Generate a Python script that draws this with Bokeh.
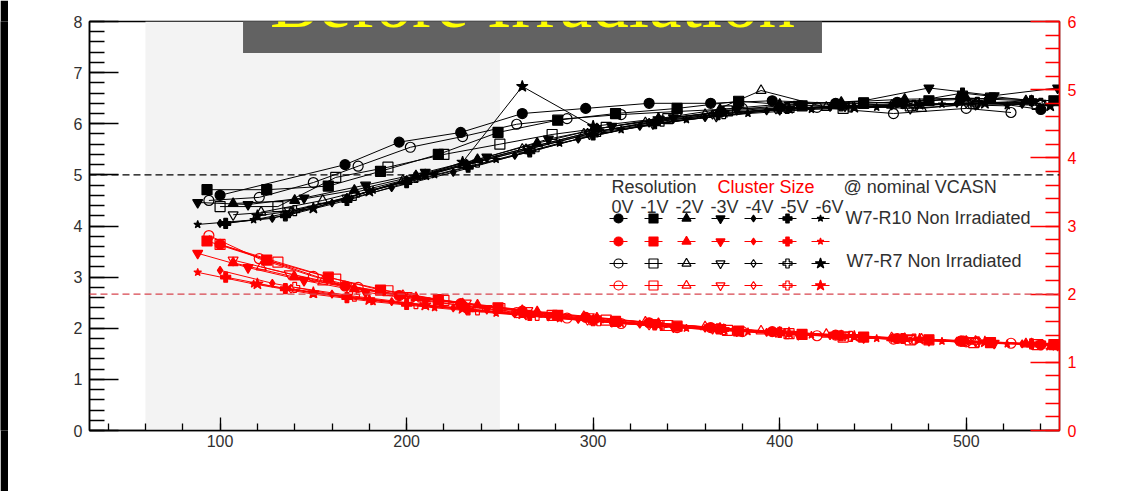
from math import pi

from bokeh.plotting import figure
from bokeh.layouts import row
from bokeh.models import (Range1d, LinearAxis, SingleIntervalTicker, BoxAnnotation,
                          Span, Label)
from bokeh.embed import file_html
from bokeh.resources import INLINE

# ---------------------------------------------------------------- data
voltages = ["0V", "-1V", "-2V", "-3V", "-4V", "-5V", "-6V"]

# W7-R10 (non irradiated): threshold (e-), resolution (um), cluster size (pixel)
thr_r10_0v = [100, 167, 196, 229, 262, 296, 330, 363, 396, 430, 463, 497, 540]
res_r10_0v = [4.60, 5.20, 5.64, 5.83, 6.20, 6.30, 6.40, 6.40, 6.45, 6.40, 6.42, 6.50, 6.28]
cls_r10_0v = [2.73, 2.12, 1.98, 1.86, 1.75, 1.66, 1.58, 1.51, 1.45, 1.40, 1.35, 1.31, 1.26]

thr_r10_1v = [93, 125, 158, 186, 217, 249, 281, 312, 345, 378, 412, 445, 480, 513, 547]
res_r10_1v = [4.71, 4.71, 4.78, 5.07, 5.40, 5.83, 6.07, 6.20, 6.30, 6.44, 6.35, 6.40, 6.45, 6.50, 6.45]
cls_r10_1v = [2.78, 2.50, 2.25, 2.06, 1.92, 1.80, 1.69, 1.60, 1.53, 1.46, 1.41, 1.37, 1.33, 1.29, 1.26]

thr_r10_2v = [107, 140, 172, 205, 238, 270, 302, 335, 368, 400, 433, 467, 500, 532]
res_r10_2v = [4.44, 4.50, 4.70, 4.98, 5.30, 5.62, 5.90, 6.10, 6.28, 6.38, 6.42, 6.48, 6.50, 6.45]
cls_r10_2v = [2.46, 2.25, 2.08, 1.95, 1.84, 1.74, 1.65, 1.57, 1.50, 1.44, 1.39, 1.35, 1.31, 1.27]

thr_r10_3v = [88, 115, 145, 178, 210, 243, 276, 310, 343, 377, 410, 445, 480, 515, 549]
res_r10_3v = [4.46, 4.42, 4.55, 4.80, 5.05, 5.35, 5.70, 5.95, 6.12, 6.28, 6.38, 6.45, 6.70, 6.55, 6.70]
cls_r10_3v = [2.60, 2.39, 2.20, 2.03, 1.90, 1.79, 1.69, 1.60, 1.52, 1.46, 1.41, 1.36, 1.32, 1.28, 1.25]

thr_r10_4v = [100, 128, 160, 192, 225, 258, 292, 325, 360, 393, 427, 460, 495, 530]
res_r10_4v = [4.05, 4.15, 4.45, 4.75, 5.05, 5.38, 5.70, 5.95, 6.12, 6.25, 6.32, 6.35, 6.40, 6.38]
cls_r10_4v = [2.35, 2.16, 2.00, 1.89, 1.80, 1.71, 1.63, 1.56, 1.50, 1.44, 1.39, 1.35, 1.31, 1.27]

thr_r10_5v = [103, 135, 168, 200, 233, 266, 300, 333, 367, 400, 433, 466, 498, 535]
res_r10_5v = [4.05, 4.20, 4.50, 4.85, 5.15, 5.45, 5.78, 6.00, 6.18, 6.30, 6.35, 6.40, 6.60, 6.45]
cls_r10_5v = [2.25, 2.08, 1.95, 1.85, 1.77, 1.69, 1.61, 1.55, 1.49, 1.44, 1.39, 1.35, 1.31, 1.27]

thr_r10_6v = [88, 118, 150, 182, 215, 248, 282, 315, 350, 383, 417, 452, 487, 522]
res_r10_6v = [4.03, 4.12, 4.35, 4.70, 5.00, 5.30, 5.62, 5.88, 6.08, 6.20, 6.28, 6.32, 6.38, 6.35]
cls_r10_6v = [2.32, 2.15, 2.00, 1.89, 1.80, 1.72, 1.64, 1.57, 1.50, 1.45, 1.40, 1.35, 1.31, 1.27]

# W7-R7 (non irradiated)
thr_r7_0v = [94, 121, 150, 174, 202, 230, 259, 286, 315, 345, 380, 420, 461, 500, 524]
res_r7_0v = [4.50, 4.56, 4.85, 5.17, 5.54, 5.75, 5.99, 6.10, 6.18, 6.24, 6.30, 6.32, 6.20, 6.30, 6.22]
cls_r7_0v = [2.86, 2.52, 2.26, 2.10, 1.95, 1.83, 1.73, 1.65, 1.57, 1.51, 1.45, 1.39, 1.34, 1.30, 1.28]

thr_r7_1v = [100, 131, 162, 190, 220, 250, 278, 307, 340, 372, 405, 434, 470, 504, 538]
res_r7_1v = [4.38, 4.38, 4.95, 5.15, 5.40, 5.60, 5.79, 5.93, 6.10, 6.25, 6.32, 6.30, 6.35, 6.40, 6.38]
cls_r7_1v = [2.73, 2.47, 2.22, 2.05, 1.91, 1.79, 1.69, 1.62, 1.54, 1.47, 1.42, 1.37, 1.33, 1.29, 1.26]

thr_r7_2v = [122, 155, 198, 230, 262, 295, 328, 360, 390, 425, 460, 476, 505, 535]
res_r7_2v = [4.27, 4.50, 4.89, 5.20, 5.50, 5.80, 6.02, 6.18, 6.65, 6.32, 6.36, 6.30, 6.40, 6.45]
cls_r7_2v = [2.40, 2.18, 1.98, 1.86, 1.76, 1.67, 1.59, 1.52, 1.46, 1.41, 1.36, 1.34, 1.31, 1.27]

thr_r7_3v = [107, 137, 168, 200, 232, 265, 298, 332, 366, 400, 435, 470, 505, 540]
res_r7_3v = [4.22, 4.30, 4.55, 4.88, 5.20, 5.50, 5.80, 6.00, 6.15, 6.28, 6.35, 6.30, 6.38, 6.40]
cls_r7_3v = [2.50, 2.30, 2.12, 1.98, 1.87, 1.76, 1.67, 1.58, 1.51, 1.45, 1.40, 1.35, 1.31, 1.27]

thr_r7_4v = [138, 168, 200, 232, 264, 297, 330, 364, 398, 432, 466, 500, 535]
res_r7_4v = [4.28, 4.55, 4.90, 5.22, 5.52, 5.82, 6.02, 6.18, 6.28, 6.35, 6.38, 6.40, 6.42]
cls_r7_4v = [2.08, 1.96, 1.86, 1.77, 1.69, 1.61, 1.54, 1.48, 1.43, 1.38, 1.34, 1.30, 1.26]

thr_r7_5v = [140, 172, 205, 238, 270, 303, 337, 370, 404, 438, 472, 506, 540]
res_r7_5v = [4.30, 4.60, 4.95, 5.25, 5.55, 5.85, 6.05, 6.20, 6.30, 6.33, 6.36, 6.42, 6.40]
cls_r7_5v = [2.10, 1.97, 1.86, 1.77, 1.69, 1.61, 1.54, 1.48, 1.42, 1.38, 1.34, 1.30, 1.26]

thr_r7_6v = [120, 150, 180, 210, 230, 262, 300, 335, 370, 405, 440, 475, 510, 545]
res_r7_6v = [4.20, 4.35, 4.68, 5.00, 5.25, 6.73, 5.95, 6.10, 6.22, 6.30, 6.32, 6.38, 6.40, 6.35]
cls_r7_6v = [2.15, 2.02, 1.92, 1.84, 1.79, 1.71, 1.62, 1.55, 1.48, 1.43, 1.38, 1.34, 1.30, 1.25]

resolution_limit = 5.0      # um
cluster_size_ref = 2.0      # pixel
region_lo, region_hi = 60, 250

r10 = [(thr_r10_0v, res_r10_0v, cls_r10_0v), (thr_r10_1v, res_r10_1v, cls_r10_1v),
       (thr_r10_2v, res_r10_2v, cls_r10_2v), (thr_r10_3v, res_r10_3v, cls_r10_3v),
       (thr_r10_4v, res_r10_4v, cls_r10_4v), (thr_r10_5v, res_r10_5v, cls_r10_5v),
       (thr_r10_6v, res_r10_6v, cls_r10_6v)]
r7 = [(thr_r7_0v, res_r7_0v, cls_r7_0v), (thr_r7_1v, res_r7_1v, cls_r7_1v),
      (thr_r7_2v, res_r7_2v, cls_r7_2v), (thr_r7_3v, res_r7_3v, cls_r7_3v),
      (thr_r7_4v, res_r7_4v, cls_r7_4v), (thr_r7_5v, res_r7_5v, cls_r7_5v),
      (thr_r7_6v, res_r7_6v, cls_r7_6v)]

# ---------------------------------------------------------------- styles
MARKERS = ["circle", "square", "triangle", "inverted_triangle", "diamond", "plus", "star"]
SIZE_R10 = [10, 10, 10, 10, 8, 10, 8]
SIZE_R7 = [10, 10, 10, 10, 9, 10, 12]
RED = "#ff0000"
TXT = "#303030"
FONT = "Liberation Sans"

X0, X1 = 30, 550
Y0, Y1 = 0, 8
C0, C1 = 0, 6

STRIP = 8
W, H = 1127 - STRIP, 491
BL, BR, BT, BB = 81, 68, 21, 61
FW, FH = W - BL - BR, H - BT - BB


def dx(px):
    """window pixel column -> threshold axis value"""
    return X0 + (px - STRIP - BL) * (X1 - X0) / FW


def dy(py):
    """window pixel row -> resolution axis value"""
    return Y1 - (py - BT) * (Y1 - Y0) / FH


p = figure(width=W, height=H, x_range=Range1d(X0, X1), y_range=Range1d(Y0, Y1),
           output_backend="svg", toolbar_location=None,
           min_border_left=BL, min_border_right=BR, min_border_top=BT, min_border_bottom=BB,
           background_fill_color="white", border_fill_color="white",
           outline_line_color="black", outline_line_width=1.5)
p.extra_y_ranges = {"cls": Range1d(C0, C1)}
p.grid.visible = False

# axes
xa = p.xaxis[0]
xa.ticker = SingleIntervalTicker(interval=100, num_minor_ticks=5)
ya = p.yaxis[0]
ya.ticker = SingleIntervalTicker(interval=1, num_minor_ticks=5)
ra = LinearAxis(y_range_name="cls", ticker=SingleIntervalTicker(interval=1, num_minor_ticks=5))
p.add_layout(ra, "right")

for ax, col in ((xa, "black"), (ya, "black"), (ra, RED)):
    ax.axis_line_color = col
    ax.axis_line_width = 1.5
    ax.major_tick_line_color = col
    ax.minor_tick_line_color = col
    ax.major_tick_line_width = 1.3
    ax.minor_tick_line_width = 1.3
    ax.major_tick_out = 0
    ax.minor_tick_out = 0
    ax.major_label_text_font = FONT
    ax.major_label_text_font_size = "16px"
    ax.major_label_text_color = TXT if col == "black" else RED

xa.major_tick_in, xa.minor_tick_in = 13, 7
xa.major_label_standoff = 4
ya.major_tick_in, ya.minor_tick_in = 29, 15
ya.major_label_standoff = 7
ra.major_tick_in, ra.minor_tick_in = 29, 14
ra.major_label_standoff = 8

# shaded threshold window and reference levels
p.add_layout(BoxAnnotation(left=region_lo, right=region_hi, fill_color="#f3f3f3",
                           fill_alpha=1, line_color=None, level="underlay"))
p.add_layout(Span(location=resolution_limit, dimension="width", line_color="black",
                  line_dash="7 4", line_width=1.2))
p.add_layout(Span(location=cluster_size_ref, dimension="width", y_range_name="cls",
                  line_color="#d8454f", line_dash="7 4", line_width=1.2))

# series
def draw(series, filled, sizes):
    for i, (thr, res, cls) in enumerate(series):
        p.line(thr, res, line_color="black", line_width=1)
        p.line(thr, cls, line_color=RED, line_width=1, y_range_name="cls")
        solid = filled or i == 6
        p.scatter(thr, res, marker=MARKERS[i], size=sizes[i], line_color="black",
                  fill_color="black", fill_alpha=1 if solid else 0, line_width=1.2)
        p.scatter(thr, cls, marker=MARKERS[i], size=sizes[i], line_color=RED,
                  fill_color=RED, fill_alpha=1 if solid else 0, line_width=1.2,
                  y_range_name="cls")


draw(r10, True, SIZE_R10)
draw(r7, False, SIZE_R7)

# legend block
def lab(text, px, py, color=TXT, size="18px", align="left", **kw):
    p.add_layout(Label(x=dx(px), y=dy(py), text=text, text_font=FONT, text_font_size=size,
                       text_color=color, text_align=align, text_baseline="middle", **kw))


lab("Resolution", 611, 186)
lab("Cluster Size", 717, 186, color=RED)
lab("@ nominal VCASN", 843, 186)
volt_x = [622, 654, 689, 724, 759, 794, 829]
for v, vx in zip(voltages, volt_x):
    lab(v, vx, 206, align="center")
lab("W7-R10 Non Irradiated", 845, 217)
lab("W7-R7 Non Irradiated", 846, 260)

col_x = [618, 653, 686, 720, 753, 787, 820]
row_y = [218, 241, 263, 285]
for i, cx in enumerate(col_x):
    for j, (ry, col, sizes) in enumerate(zip(row_y, ["black", RED, "black", RED],
                                             [SIZE_R10, SIZE_R10, SIZE_R7, SIZE_R7])):
        solid = j < 2 or i == 6
        p.scatter([dx(cx)], [dy(ry)], marker=MARKERS[i], size=sizes[i] - 1,
                  line_color=col, fill_color=col, fill_alpha=1 if solid else 0, line_width=1.2)
    p.segment(x0=[dx(cx - 9)] * 4, y0=[dy(ry) for ry in row_y],
              x1=[dx(cx + 9)] * 4, y1=[dy(ry) for ry in row_y],
              line_color=["black", RED, "black", RED], line_width=1)

# axis titles
lab("Resolution (\u00b5m)", 20, 21, size="17px", angle=pi / 2, align="right")
lab("Average Cluster Size (Pixel)", 1112, 21, color=RED, size="16px", angle=pi / 2,
    align="right", text_font_style="bold")
lab("Threshold (e\u207b)", 1041, 466, size="18px", align="right")

# heading banner: text with its own filled box
p.add_layout(Label(x=dx(532), y=dy(2), text="Before Irradiation", text_font="Liberation Serif",
                   text_font_size="73px", text_color="#ffff00", text_align="center",
                   text_baseline="middle", background_fill_color="#626262",
                   background_fill_alpha=1,
                   padding=dict(left=27, right=27, top=10, bottom=10),
                   level="overlay"))

strip = figure(width=STRIP, height=H, output_backend="svg", toolbar_location=None,
               min_border=0, x_axis_location=None, y_axis_location=None,
               background_fill_color="black", border_fill_color="black",
               outline_line_color=None)
strip.grid.visible = False

layout = row(strip, p, spacing=0)
open("out.html", "w").write(file_html(layout, INLINE))
